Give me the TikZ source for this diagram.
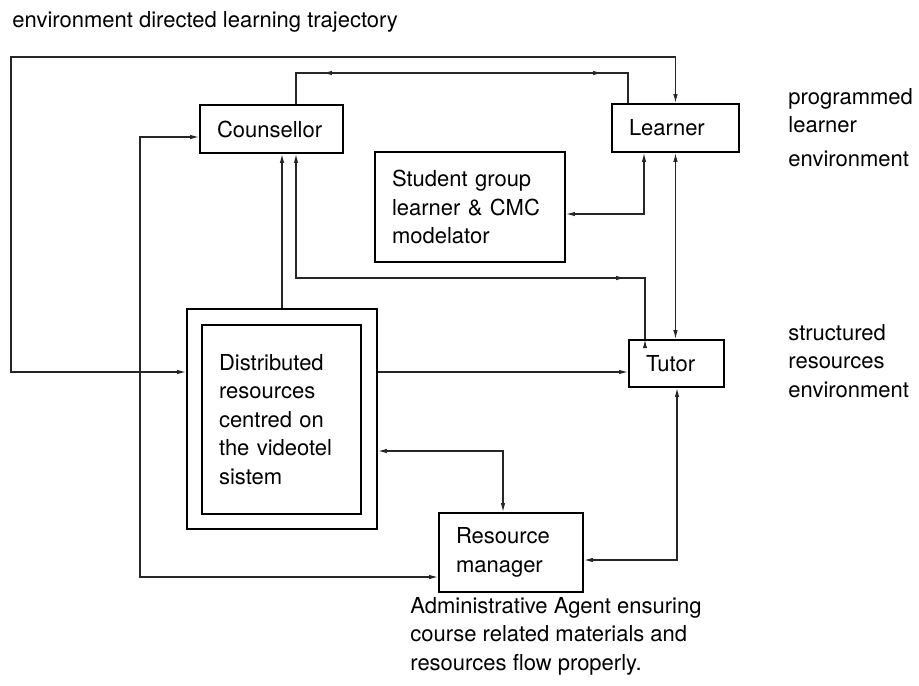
\documentclass[tikz,border=0pt]{standalone}
\usepackage{fontspec}
\setmainfont{TeX Gyre Heros}
\usetikzlibrary{arrows.meta,decorations.markings}
\tikzset{
  arw/.tip={Latex[length=4.5pt,width=2.2pt]},
  box/.style={draw,line width=0.8pt,inner xsep=8.5pt,inner ysep=1pt,align=left},
  link/.style={draw=black!85,line width=0.6pt},
  arrowat/.style={postaction={decorate,decoration={markings,
      mark=at position #1 with {\arrow{arw}}}}},
  backat/.style={postaction={decorate,decoration={markings,
      mark=at position #1 with {\arrowreversed{arw}}}}}
}

\begin{document}
\begin{tikzpicture}[x=0.5pt,y=-0.5pt,font=\fontsize{11}{14.2}\selectfont]
\useasboundingbox (0,0) rectangle (919,685);
\begin{scope}[every node/.style={box}]
    \node[text width=54.5pt,minimum height=24pt] (coun) at (271.5,129) {Counsellor};
    \node[text width=46.5pt,minimum height=24pt] (learn) at (675.5,128) {Learner};
    \node[text width=78pt,minimum height=55pt] (stud) at (470,207)
        {Student group\\learner \& CMC\\modelator};
    \node[minimum width=95pt,minimum height=110pt] (dist) at (282,419) {};
    \node[text width=62.5pt,minimum height=94.5pt] (distin) at (281.5,419.5)
        {Distributed\\resources\\centred on\\the videotel\\sistem};
    \node[text width=30.5pt,minimum height=23.5pt] (tutor) at (676.5,363.5) {Tutor};
    \node[text width=55pt,minimum height=39.5pt] (rm) at (511,552.5) {Resource\\manager};
\end{scope}
\begin{scope}[every node/.style={inner sep=0pt,align=left,anchor=base west}]
    \node (title) at (12,27) {environment directed learning trajectory};
    \node (prog) at (788,166) {programmed\\learner\\[2.5pt]environment};
    \node (struc) at (788,397) {structured\\resources\\environment};
    \node (admin) at (410,670) {Administrative Agent ensuring\\course related materials and\\resources flow properly.};
\end{scope}
\coordinate (tl) at (11,57);
\coordinate (lv) at (0,372);
\coordinate (xa) at (296,73);
\coordinate (xb) at (628,73);
\coordinate (xc) at (645,278);
\coordinate (xl) at (140,137);
\coordinate (yl) at (140,577);
\coordinate (xs) at (644,214);
\coordinate (xr) at (503,451);
\coordinate (xu) at (677,560);
\begin{scope}[every path/.style={link}]
    \draw[arw-arw] (learn.north) -- (learn.north |- tl) -- (tl) -- (tl |- lv) -- (dist.west |- lv);
    \draw[backat=29pt,arrowat=-28pt] (coun.north -| xa) -- (xa) -- (xb) -- (learn.north -| xb);
    \draw[-arw] (dist.north) -- (coun.south -| dist.north);
    \draw[arw-,arrowat=-40.5pt] (coun.south -| xa) -- (xa |- xc) -- (xc) -- (tutor.north -| xc);
    \draw[arw-arw] (coun.west |- xl) -- (xl) -- (yl) -- (rm.west |- yl);
    \draw[arw-arw] (learn.south -| xs) -- (xs) -- (stud.east |- xs);
    \draw[arw-arw] (learn.south) -- (tutor.north -| learn.south);
    \draw[-arw] (dist.east |- lv) -- (tutor.west |- lv);
    \draw[arw-arw] (dist.east |- xr) -- (xr) -- (rm.north -| xr);
    \draw[arw-arw] (tutor.south -| xu) -- (xu) -- (rm.east |- xu);
\end{scope}
\end{tikzpicture}
\end{document}
